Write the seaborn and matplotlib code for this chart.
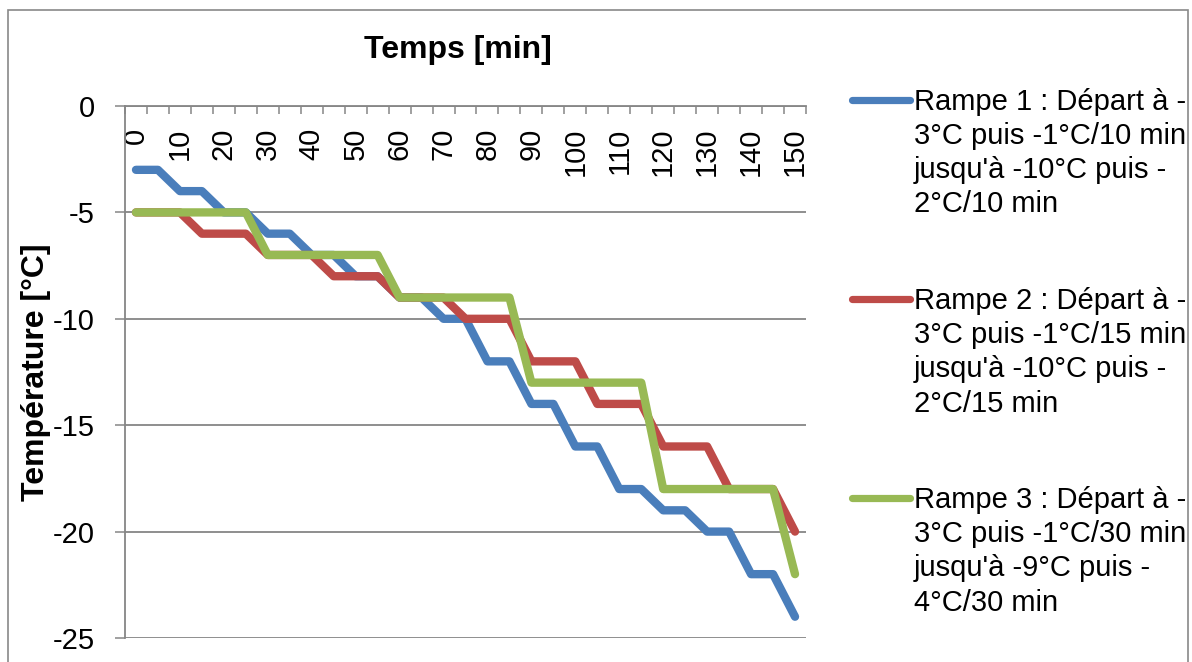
import numpy as np
import pandas as pd
import matplotlib
matplotlib.use("Agg")
import matplotlib.pyplot as plt
import seaborn as sns
from matplotlib.lines import Line2D
from matplotlib.patches import Rectangle
from matplotlib.legend_handler import HandlerLine2D

# ---- data ----
minutes = [0, 5, 10, 15, 20, 25, 30, 35, 40, 45, 50, 55, 60, 65, 70, 75,
           80, 85, 90, 95, 100, 105, 110, 115, 120, 125, 130, 135, 140, 145, 150]
rampe1 = [-3, -3, -4, -4, -5, -5, -6, -6, -7, -7, -8, -8, -9, -9, -10, -10,
          -12, -12, -14, -14, -16, -16, -18, -18, -19, -19, -20, -20, -22, -22, -24]
rampe2 = [-5, -5, -5, -6, -6, -6, -7, -7, -7, -8, -8, -8, -9, -9, -9, -10,
          -10, -10, -12, -12, -12, -14, -14, -14, -16, -16, -16, -18, -18, -18, -20]
rampe3 = [-5, -5, -5, -5, -5, -5, -7, -7, -7, -7, -7, -7, -9, -9, -9, -9,
          -9, -9, -13, -13, -13, -13, -13, -13, -18, -18, -18, -18, -18, -18, -22]
labels = [
    "Rampe 1 : Départ à -\n3°C puis -1°C/10 min\njusqu'à -10°C puis -\n2°C/10 min",
    "Rampe 2 : Départ à -\n3°C puis -1°C/15 min\njusqu'à -10°C puis -\n2°C/15 min",
    "Rampe 3 : Départ à -\n3°C puis -1°C/30 min\njusqu'à -9°C puis -\n4°C/30 min",
]
colors = ["#4A7EBB", "#BE4B48", "#98B954"]
x_labels = [0, 10, 20, 30, 40, 50, 60, 70, 80, 90, 100, 110, 120, 130, 140, 150]
y_ticks = [0, -5, -10, -15, -20, -25]

df = pd.DataFrame({
    "minute": minutes * 3,
    "temp": rampe1 + rampe2 + rampe3,
    "serie": [labels[0]] * len(minutes) + [labels[1]] * len(minutes) + [labels[2]] * len(minutes),
})

# ---- style ----
sns.set_theme(style="white")
plt.rcParams["font.family"] = ["Liberation Sans", "DejaVu Sans"]
plt.rcParams["text.color"] = "black"
plt.rcParams["axes.labelcolor"] = "black"
plt.rcParams["xtick.color"] = "black"
plt.rcParams["ytick.color"] = "black"
FS = 21
FSB = 23
GRAY = "#868686"

W, H = 1192, 662
fig = plt.figure(figsize=(W / 100, H / 100), dpi=100)
ax = fig.add_axes([125 / W, 1 - 638 / H, 681 / W, 532 / H])

sns.lineplot(data=df, x="minute", y="temp", hue="serie", palette=colors,
             hue_order=labels, estimator=None, sort=False, legend=False,
             linewidth=6.0, solid_capstyle="round", solid_joinstyle="round", ax=ax)

ax.set_xlim(-2.5, 152.5)
ax.set_ylim(-25, 0)

# y axis
ax.set_yticks(y_ticks)
ax.set_yticklabels([str(v) for v in y_ticks])
ax.tick_params(axis="y", which="major", direction="out", length=7.2, width=1.1,
               color=GRAY, labelsize=FS, pad=14.5, left=True, labelcolor="black")
ax.yaxis.grid(True, color=GRAY, linewidth=1.3)
ax.xaxis.grid(False)

# x axis on top (crosses at 0)
ax.xaxis.set_ticks_position("top")
ax.set_xticks(x_labels)
ax.set_xticklabels([str(v) for v in x_labels], rotation=90)
ax.set_xticks([m - 2.5 for m in minutes] + [152.5], minor=True)
ax.tick_params(axis="x", which="major", length=0, labelsize=FS, top=True,
               bottom=False, labeltop=True, labelbottom=False, pad=-15.5,
               labelcolor="black")
ax.tick_params(axis="x", which="minor", direction="in", length=5.8, width=1.1,
               color=GRAY, top=True, bottom=False)
for lbl in ax.get_xticklabels():
    lbl.set_va("top")

for side in ["right", "bottom"]:
    ax.spines[side].set_visible(False)
for side in ["left", "top"]:
    ax.spines[side].set_color(GRAY)
    ax.spines[side].set_linewidth(1.3)

ax.set_xlabel("Temps [min]", fontsize=FSB, fontweight="bold", color="black")
ax.xaxis.set_label_position("top")
ax.xaxis.set_label_coords((458 - 125) / 681, (638 - 50) / 532)
ax.xaxis.label.set_va("center")

ax.set_ylabel("Température [°C]", fontsize=FSB, fontweight="bold", color="black")
ax.yaxis.set_label_coords((36 - 125) / 681, 0.5)
ax.yaxis.label.set_va("center")


class TopHandler(HandlerLine2D):
    def create_artists(self, legend, orig_handle, xdescent, ydescent, width,
                       height, fontsize, trans):
        arts = super().create_artists(legend, orig_handle, xdescent, ydescent,
                                      width, height, fontsize, trans)
        for a in arts:
            a.set_ydata(np.asarray(a.get_ydata()) + 39.0)
        return arts


handles = [Line2D([0], [0], color=c, lw=5.2, solid_capstyle="round") for c in colors]
leg = fig.legend(handles, labels, loc="upper left",
                 bbox_to_anchor=(852 / W, 1 - 88 / H), frameon=False,
                 fontsize=FS, handlelength=2.0, handletextpad=0.12,
                 borderpad=0, borderaxespad=0, labelspacing=2.35,
                 handler_map={Line2D: TopHandler()})
for t in leg.get_texts():
    t.set_linespacing(1.28)
    t.set_color("black")

fig.add_artist(Rectangle((8 / W, -0.1), (1188 - 8) / W, 1.1 - 10 / H,
                         transform=fig.transFigure, fill=False,
                         edgecolor="#898989", linewidth=1.2))

fig.savefig("out.png", dpi=100)
